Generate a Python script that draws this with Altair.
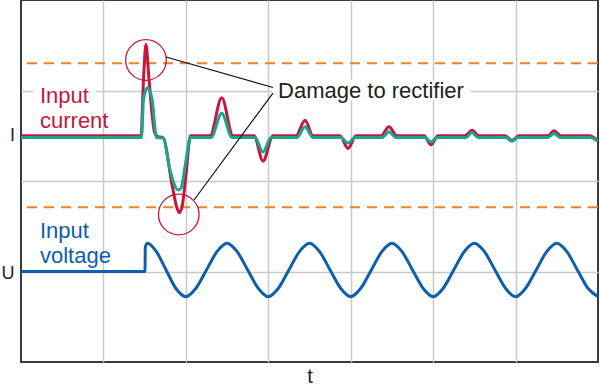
import altair as alt
import pandas as pd

# ---- data (chart units: x = time divisions 0..7, y = vertical divisions 0..4) ----
red_x = [0, 1.456, 1.486, 1.516, 1.553, 1.620, 1.662, 1.723, 1.832, 1.893,
         1.920, 1.953, 2.002, 2.056, 2.293, 2.435, 2.572, 2.827, 2.936, 3.057,
         3.336, 3.445, 3.542, 3.870, 3.967, 4.064, 4.367, 4.464, 4.561, 4.889,
         4.974, 5.059, 5.386, 5.471, 5.556, 5.872, 5.957, 6.041, 6.393, 6.466,
         6.551, 6.897, 7.0]
red_y = [2.50, 2.50, 3.12, 3.51, 3.12, 2.54, 2.49, 2.48, 1.96, 1.70,
         1.65, 1.71, 2.07, 2.50, 2.50, 2.92, 2.50, 2.50, 2.22, 2.50,
         2.50, 2.67, 2.50, 2.50, 2.36, 2.50, 2.50, 2.60, 2.50, 2.50,
         2.40, 2.50, 2.50, 2.56, 2.50, 2.50, 2.45, 2.50, 2.50, 2.555,
         2.50, 2.50, 2.44]

teal_x = [0, 1.462, 1.486, 1.535, 1.590, 1.644, 1.723, 1.808, 1.880, 1.911,
          1.941, 2.002, 2.056, 2.305, 2.435, 2.560, 2.839, 2.936, 3.033, 3.348,
          3.445, 3.542, 3.882, 3.967, 4.052, 4.380, 4.464, 4.549, 4.901, 4.974,
          5.047, 5.398, 5.471, 5.544, 5.884, 5.957, 6.029, 6.393, 6.466, 6.539,
          6.897, 7.0]
teal_y = [2.48, 2.48, 2.90, 3.03, 2.90, 2.48, 2.475, 2.12, 1.92, 1.90,
          1.92, 2.23, 2.48, 2.48, 2.75, 2.48, 2.48, 2.32, 2.48, 2.48,
          2.60, 2.48, 2.48, 2.42, 2.48, 2.48, 2.545, 2.48, 2.48, 2.43,
          2.48, 2.48, 2.535, 2.48, 2.48, 2.44, 2.48, 2.48, 2.525, 2.48,
          2.48, 2.44]

volt_x = [0, 1.504, 1.508, 1.535, 1.64, 1.76, 1.88,
          2.0, 2.12, 2.25, 2.38, 2.5, 2.62, 2.75, 2.88,
          3.0, 3.12, 3.25, 3.38, 3.5, 3.62, 3.75, 3.88,
          4.0, 4.12, 4.25, 4.38, 4.5, 4.62, 4.75, 4.88,
          5.0, 5.12, 5.25, 5.38, 5.5, 5.62, 5.75, 5.88,
          6.0, 6.12, 6.25, 6.38, 6.5, 6.62, 6.75, 6.88,
          7.0]
volt_y = [1.0, 1.0, 1.27, 1.312, 1.222, 1.017, 0.812,
          0.722, 0.812, 1.017, 1.222, 1.312, 1.222, 1.017, 0.812,
          0.722, 0.812, 1.017, 1.222, 1.312, 1.222, 1.017, 0.812,
          0.722, 0.812, 1.017, 1.222, 1.312, 1.222, 1.017, 0.812,
          0.722, 0.812, 1.017, 1.222, 1.312, 1.222, 1.017, 0.812,
          0.722, 0.812, 1.017, 1.222, 1.312, 1.222, 1.017, 0.812,
          0.722]

limit_y = [3.30, 1.71]

circle_x = [1.516, 1.914]
circle_y = [3.337, 1.630]

pointer_x = [1.759, 3.057]
pointer_y = [3.370, 2.972]
pointer_x2 = [3.057, 2.099]
pointer_y2 = [3.033, 1.790]

box_x = [0.146, 3.045]
box_x2 = [0.910, 5.459]
box_y = [2.95, 2.895]
box_y2 = [3.06, 3.117]

red_labels = ["Input", "current"]
red_label_x = [0.2305, 0.2305]
red_label_y = [2.859, 2.582]

blue_labels = ["Input", "voltage"]
blue_label_x = [0.2305, 0.2305]
blue_label_y = [1.367, 1.097]

note_label = ["Damage to rectifier"]
note_x = [3.118]
note_y = [2.914]

axis_labels = ["I", "U"]
axis_label_x = [-0.103, -0.158]
axis_label_y = [2.494, 0.972]

time_label = ["t"]
time_x = [3.506]
time_y = [-0.235]

RED = "#c4173d"
TEAL = "#17a68e"
BLUE = "#0b5fab"
ORANGE = "#ef8322"
FONT = "Liberation Sans"

X = alt.Scale(domain=[0, 7], nice=False, zero=False)
Y = alt.Scale(domain=[0, 4], nice=False, zero=False)
xaxis = alt.Axis(values=[1, 2, 3, 4, 5, 6], grid=True, labels=False, ticks=False,
                 domain=False, title=None, gridColor="#c9c9c9", gridWidth=1.5)
yaxis = alt.Axis(values=[1, 2, 3], grid=True, labels=False, ticks=False,
                 domain=False, title=None, gridColor="#c9c9c9", gridWidth=1.5)


def xe(f):
    return alt.X(f, type="quantitative", scale=X, axis=xaxis)


def ye(f):
    return alt.Y(f, type="quantitative", scale=Y, axis=yaxis)


boxes = alt.Chart(pd.DataFrame({"x": box_x, "x2": box_x2, "y": box_y, "y2": box_y2})).mark_rect(
    color="white").encode(x=xe("x"), x2="x2:Q", y=ye("y"), y2="y2:Q")

limits = alt.Chart(pd.DataFrame({"y": limit_y})).mark_rule(
    color=ORANGE, strokeWidth=2, strokeDash=[10, 7]).encode(y=ye("y"))

voltage = alt.Chart(pd.DataFrame({"x": volt_x, "y": volt_y})).mark_line(
    color=BLUE, strokeWidth=3, interpolate="monotone").encode(x=xe("x"), y=ye("y"))

red = alt.Chart(pd.DataFrame({"x": red_x, "y": red_y})).mark_line(
    color=RED, strokeWidth=3, interpolate="monotone").encode(x=xe("x"), y=ye("y"))

teal = alt.Chart(pd.DataFrame({"x": teal_x, "y": teal_y})).mark_line(
    color=TEAL, strokeWidth=3, interpolate="monotone").encode(x=xe("x"), y=ye("y"))

circles = alt.Chart(pd.DataFrame({"x": circle_x, "y": circle_y})).mark_point(
    shape="circle", filled=False, color=RED, strokeWidth=1.3, size=1650, opacity=1).encode(
    x=xe("x"), y=ye("y"))

pointers = alt.Chart(pd.DataFrame({"x": pointer_x, "y": pointer_y, "x2": pointer_x2, "y2": pointer_y2})).mark_rule(
    color="#111111", strokeWidth=1.2).encode(x=xe("x"), y=ye("y"), x2="x2:Q", y2="y2:Q")

red_text = alt.Chart(pd.DataFrame({"x": red_label_x, "y": red_label_y, "t": red_labels})).mark_text(
    color=RED, font=FONT, fontSize=22, align="left", baseline="alphabetic").encode(
    x=xe("x"), y=ye("y"), text="t:N")

blue_text = alt.Chart(pd.DataFrame({"x": blue_label_x, "y": blue_label_y, "t": blue_labels})).mark_text(
    color=BLUE, font=FONT, fontSize=22, align="left", baseline="alphabetic").encode(
    x=xe("x"), y=ye("y"), text="t:N")

note_text = alt.Chart(pd.DataFrame({"x": note_x, "y": note_y, "t": note_label})).mark_text(
    color="#222222", font=FONT, fontSize=22, align="left", baseline="alphabetic").encode(
    x=xe("x"), y=ye("y"), text="t:N")

axis_text = alt.Chart(pd.DataFrame({"x": axis_label_x, "y": axis_label_y, "t": axis_labels})).mark_text(
    color="#222222", font=FONT, fontSize=18, align="center", baseline="middle").encode(
    x=xe("x"), y=ye("y"), text="t:N")

t_text = alt.Chart(pd.DataFrame({"x": time_x, "y": time_y, "t": time_label})).mark_text(
    color="#222222", font=FONT, fontSize=20, align="center", baseline="alphabetic").encode(
    x=xe("x"), y=ye("y"), text="t:N")

chart = alt.layer(
    boxes, limits, voltage, red, teal, circles, pointers,
    red_text, blue_text, note_text, axis_text, t_text
).properties(
    width=577, height=362,
    autosize=alt.AutoSizeParams(type="none"),
    padding={"left": 21, "top": 0, "right": 2, "bottom": 27},
    background="white",
).configure_view(stroke="#3a3a3a", strokeWidth=2)

chart.save("out.html", embed_options={"renderer": "svg", "actions": False})
